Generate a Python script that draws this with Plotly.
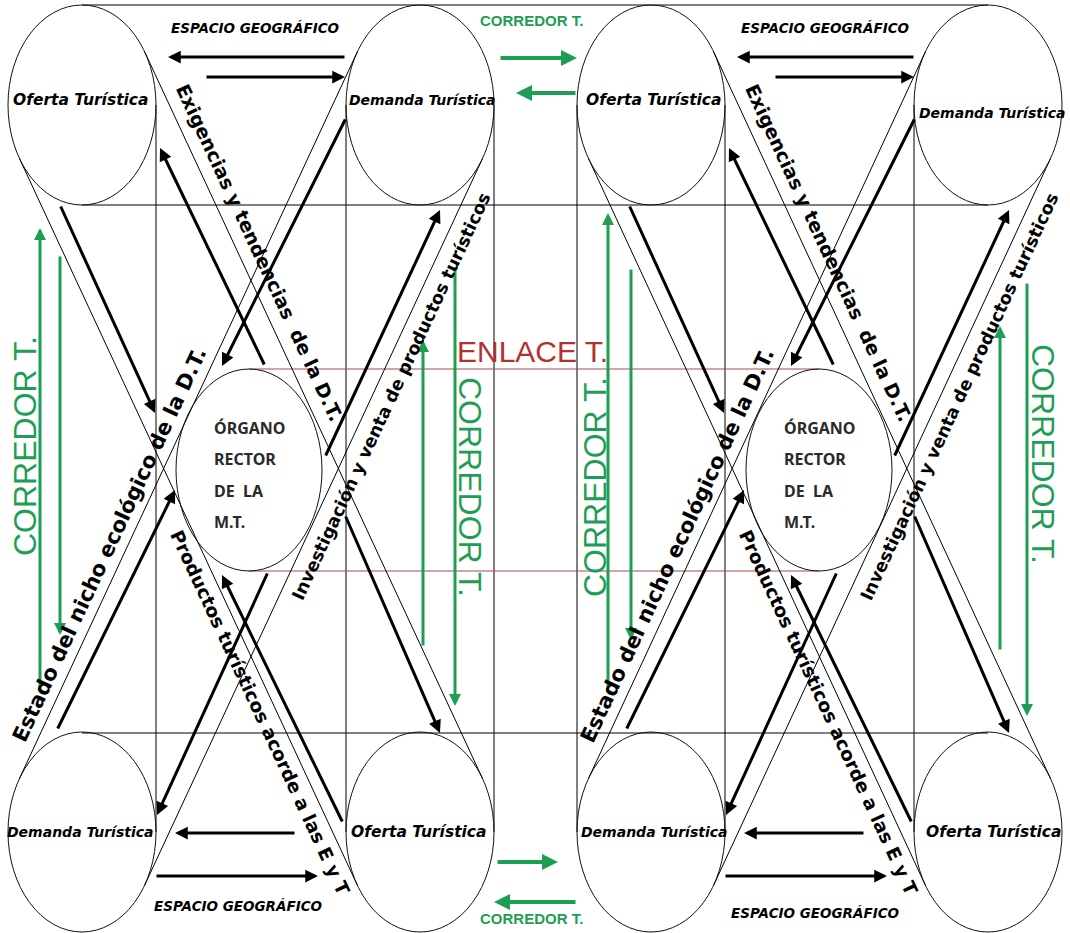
import numpy as np
import plotly.graph_objects as go

W, H = 1070, 933

# ---------------- data ----------------
col_x = [82, 420, 651, 988]          # corner ellipse centres (x)
row_y = [105, 832]                   # corner ellipse centres (y)
ell_rx, ell_ry = 74, 100
organo_x = [249, 819]
organo_y = 470
org_rx, org_ry = 73, 101
half_shift = 569

top_labels = ["Oferta Turística", "Demanda Turística", "Oferta Turística", "Demanda Turística"]
top_label_x = [81, 422, 654, 992]
top_label_y = [100, 100, 100, 113]
bottom_labels = ["Demanda Turística", "Oferta Turística", "Demanda Turística", "Oferta Turística"]
bottom_label_x = [80, 419, 654, 994]
bottom_label_y = [832, 832, 832, 832]

organo_lines = ["ÓRGANO", "RECTOR", "DE\u00a0 LA", "M.T."]
organo_line_y = [428, 459, 491, 522]
organo_text_x = [212, 782]

grid_vx = [156, 346, 494, 577, 725, 914]
grid_vy = [105, 832]
grid_hy = [5, 205, 733]
grid_hx = [82, 988]

enlace_y = [369, 571]
enlace_label = "ENLACE T."
enlace_pos = [532, 351]

diag_texts = ["Exigencias y tendencias\u00a0 de la D.T.",
              "Productos turísticos acorde a las E y T",
              "Estado del nicho ecológico de la D.T.",
              "Investigación y venta de productos turísticos"]
diag_which = [1, 1, 2, 2]
diag_t = [209, 626, 530, 276]
diag_off = [99, -95, -96, 97]
diag_size = [19, 18.5, 21, 17.5]

espacio_label = "ESPACIO GEOGRÁFICO"
espacio_x = [255, 825, 238, 815]
espacio_y = [28, 28, 906, 913]

# black arrows of the left half (the right half repeats them)
blk_tail_x = [346, 205, 346, 60, 265, 325, 57, 268, 343, 345, 296, 155]
blk_tail_y = [57, 77, 118, 205, 366, 457, 730, 572, 823, 515, 833, 876]
blk_head_x = [168, 345, 222, 155, 160, 440, 175, 157, 222, 440, 175, 318]
blk_head_y = [57, 77, 366, 413, 148, 210, 490, 815, 575, 733, 833, 876]

# green corridor arrows
grn_tail_x = [40, 60, 423, 455, 608, 631, 1000, 1027, 499, 577, 496, 577]
grn_tail_y = [690, 255, 647, 267, 689, 268, 651, 282, 58, 93, 862, 902]
grn_head_x = [40, 60, 423, 455, 608, 631, 1000, 1027, 577, 516, 558, 494]
grn_head_y = [228, 635, 340, 706, 213, 640, 326, 716, 58, 93, 862, 902]
grn_width = [3, 3, 3, 3, 3, 3, 3, 3, 4, 4, 4, 4]

corr_label = "CORREDOR T."
corr_x = [25, 470, 595, 1043, 531, 531]
corr_y = [446, 487, 487, 454, 20, 918]
corr_angle = [-90, 90, -90, 90, 0, 0]
corr_size = [32, 32, 32, 32, 15, 15]

GREEN = "#1e9e55"
RED = "#b3312e"
REDLINE = "#a84a4a"

# ---------------- figure ----------------
fig = go.Figure()
shapes = []
ann = []

def line(x0, y0, x1, y1, color="black", width=1):
    shapes.append(dict(type="line", xref="x", yref="y", x0=x0, y0=y0, x1=x1, y1=y1,
                       line=dict(color=color, width=width)))

# grid lines
for vx in grid_vx:
    line(vx, grid_vy[0], vx, grid_vy[1])
for hy in grid_hy:
    line(grid_hx[0], hy, grid_hx[1], hy)

# ENLACE lines
for ey in enlace_y:
    line(organo_x[0], ey, organo_x[1], ey, color=REDLINE, width=1.2)

# tangent lines of the diagonals
def tangents(c1, c2, rx, ry):
    c1 = np.array(c1, float); c2 = np.array(c2, float)
    u = (c2 - c1) / np.linalg.norm(c2 - c1)
    n = np.array([u[1], -u[0]])
    h = np.sqrt((rx * n[0]) ** 2 + (ry * n[1]) ** 2)
    out = []
    for s in (1, -1):
        nn = s * n
        off = np.array([rx ** 2 * nn[0], ry ** 2 * nn[1]]) / h
        out.append((c1 + off, c2 + off))
    return out

def diag_geom(half, which):
    if which == 1:
        s = np.array([col_x[0] if half == 0 else col_x[2], row_y[0]], float)
        e = np.array([col_x[1] if half == 0 else col_x[3], row_y[1]], float)
    else:
        s = np.array([col_x[1] if half == 0 else col_x[3], row_y[0]], float)
        e = np.array([col_x[0] if half == 0 else col_x[2], row_y[1]], float)
    return s, e

for half in (0, 1):
    for which in (1, 2):
        s, e = diag_geom(half, which)
        for p, q in tangents(s, e, ell_rx, ell_ry):
            line(p[0], p[1], q[0], q[1], width=1)

# ellipses
for cy in row_y:
    for cx in col_x:
        shapes.append(dict(type="circle", xref="x", yref="y",
                           x0=cx - ell_rx, x1=cx + ell_rx, y0=cy - ell_ry, y1=cy + ell_ry,
                           line=dict(color="#111", width=1)))
for ox in organo_x:
    shapes.append(dict(type="circle", xref="x", yref="y",
                       x0=ox - org_rx, x1=ox + org_rx, y0=organo_y - org_ry, y1=organo_y + org_ry,
                       line=dict(color="#111", width=1)))

# black arrows
for half in (0, 1):
    dx = half * half_shift
    for tx, ty, hx, hy in zip(blk_tail_x, blk_tail_y, blk_head_x, blk_head_y):
        ann.append(dict(x=hx + dx, y=hy, ax=tx + dx, ay=ty, xref="x", yref="y",
                        axref="x", ayref="y", text="", showarrow=True,
                        arrowhead=2, arrowsize=0.85, arrowwidth=3, arrowcolor="black",
                        standoff=0, startstandoff=0))

# green arrows
for tx, ty, hx, hy, w in zip(grn_tail_x, grn_tail_y, grn_head_x, grn_head_y, grn_width):
    ann.append(dict(x=hx, y=hy, ax=tx, ay=ty, xref="x", yref="y", axref="x", ayref="y",
                    text="", showarrow=True, arrowhead=2, arrowsize=0.8, arrowwidth=w,
                    arrowcolor=GREEN, standoff=0, startstandoff=0))

def text(x, y, s, size, color="black", family="DejaVu Sans", angle=0, xanchor="center"):
    ann.append(dict(x=x, y=y, xref="x", yref="y", text=s, showarrow=False,
                    font=dict(family=family, size=size, color=color),
                    textangle=angle, xanchor=xanchor, yanchor="middle"))

# ellipse labels
for lx, ly, s in zip(top_label_x, top_label_y, top_labels):
    text(lx, ly, "<b><i>" + s + "</i></b>", 14 if s.startswith("D") else 15.5)
for lx, ly, s in zip(bottom_label_x, bottom_label_y, bottom_labels):
    text(lx, ly, "<b><i>" + s + "</i></b>", 14 if s.startswith("D") else 15.5)

# organo texts
for ox in organo_text_x:
    for s, ly in zip(organo_lines, organo_line_y):
        text(ox, ly, "<b>" + s + "</b>", 16, color="#2a2a2a", family="Noto Sans", xanchor="left")

# diagonal texts
for half in (0, 1):
    for s, wch, t, off, sz in zip(diag_texts, diag_which, diag_t, diag_off, diag_size):
        a, b = diag_geom(half, wch)
        u = (b - a) / np.linalg.norm(b - a)
        n = np.array([u[1], -u[0]])
        p = a + t * u + off * n
        ang = np.degrees(np.arctan2(u[1], u[0]))
        if wch == 2:
            ang = np.degrees(np.arctan2(-u[1], -u[0]))
        text(p[0], p[1], "<b>" + s + "</b>", sz, angle=ang)

# espacio labels
for ex, ey in zip(espacio_x, espacio_y):
    text(ex, ey, "<b><i>" + espacio_label + "</i></b>", 13.5)

# corridor labels
for cx, cy, ang, sz in zip(corr_x, corr_y, corr_angle, corr_size):
    lab = corr_label if sz > 20 else "<b>" + corr_label + "</b>"
    text(cx, cy, lab, sz, color=GREEN, family="Liberation Sans", angle=ang)

# enlace label
text(enlace_pos[0], enlace_pos[1], enlace_label, 30, color=RED, family="Liberation Sans")

fig.update_layout(
    width=W, height=H, margin=dict(l=0, r=0, t=0, b=0),
    paper_bgcolor="white", plot_bgcolor="white",
    xaxis=dict(range=[0, W], visible=False, fixedrange=True),
    yaxis=dict(range=[H, 0], visible=False, fixedrange=True),
    shapes=shapes, annotations=ann, showlegend=False,
)

fig.write_html("out.html", config={"displayModeBar": False},
               post_script="document.body.style.margin='0';document.body.style.overflow='hidden';")
